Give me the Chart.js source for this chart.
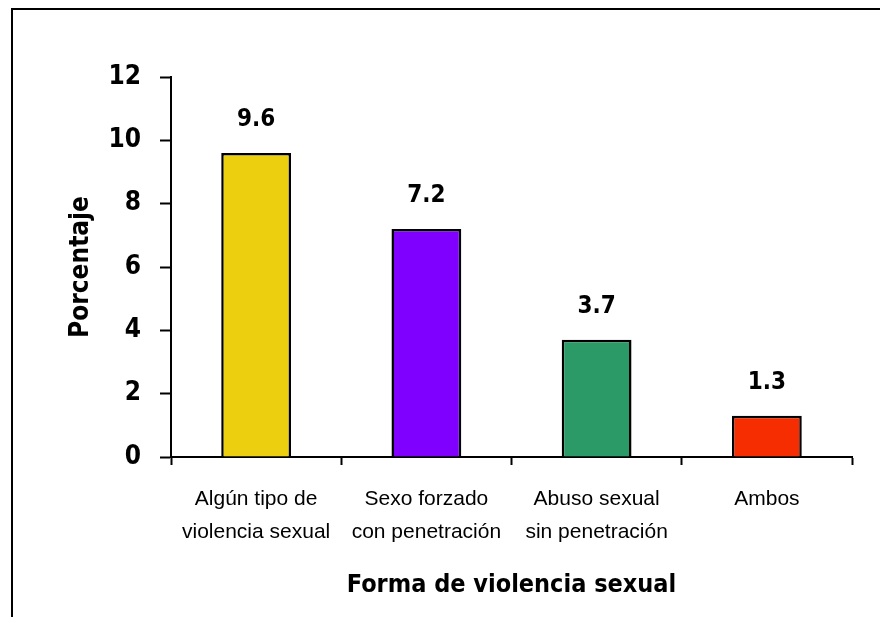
<!DOCTYPE html>
<html lang="es">
<head>
<meta charset="utf-8">
<title>Forma de violencia sexual</title>
<script src="https://cdn.jsdelivr.net/npm/chart.js"></script>
<style>
    html, body { margin: 0; padding: 0; background: #ffffff; }
    #wrap { position: relative; width: 880px; height: 617px; }
</style>
</head>
<body>
<div id="wrap"><canvas id="grafico" width="880" height="617"></canvas></div>
<script>
// ── Données ──
const categories = [
    ['Algún tipo de', 'violencia sexual'],
    ['Sexo forzado', 'con penetración'],
    ['Abuso sexual', 'sin penetración'],
    ['Ambos']
];
const porcentajes = [9.6, 7.2, 3.7, 1.3];
const couleurs = ['#ecd010', '#7f00ff', '#2b9a66', '#f52d00'];
const yMin = 0, yMax = 12, yPas = 2;

const POLICE_ETROITE = "'Liberation Sans Narrow', 'Arial Narrow', 'DejaVu Sans Condensed', sans-serif";
const POLICE = "'Liberation Sans', Arial, sans-serif";

// Cadre (bord gauche + haut) et fond blanc
const cadre = {
    id: 'cadre',
    beforeDraw(chart) {
        const ctx = chart.ctx;
        ctx.save();
        ctx.fillStyle = '#ffffff';
        ctx.fillRect(0, 0, chart.width, chart.height);
        ctx.strokeStyle = '#000000';
        ctx.lineWidth = 2;
        ctx.beginPath();
        ctx.moveTo(12, chart.height);
        ctx.lineTo(12, 9);
        ctx.lineTo(chart.width, 9);
        ctx.stroke();
        ctx.restore();
    }
};

// Valeurs au-dessus des barres
const etiquettes = {
    id: 'etiquettes',
    afterDatasetsDraw(chart) {
        const ctx = chart.ctx;
        const meta = chart.getDatasetMeta(0);
        ctx.save();
        ctx.font = `bold 24px ${POLICE_ETROITE}`;
        ctx.fillStyle = '#000000';
        ctx.textAlign = 'center';
        ctx.textBaseline = 'middle';
        meta.data.forEach((barre, i) => {
            ctx.fillText(porcentajes[i].toFixed(1), barre.x, barre.y - 33);
        });
        ctx.restore();
    }
};

new Chart(document.getElementById('grafico'), {
    type: 'bar',
    data: {
        labels: categories,
        datasets: [{
            data: porcentajes,
            backgroundColor: couleurs,
            borderColor: '#000000',
            borderWidth: 2.5,
            borderSkipped: 'bottom',
            categoryPercentage: 1,
            barPercentage: 0.41
        }]
    },
    options: {
        responsive: false,
        animation: false,
        devicePixelRatio: 1,
        layout: { padding: { left: 50, top: 77, right: 28, bottom: 0 } },
        plugins: {
            legend: { display: false },
            tooltip: { enabled: false }
        },
        scales: {
            x: {
                afterFit: s => { s.height = 160; },
                grid: {
                    drawOnChartArea: false,
                    drawTicks: true,
                    tickLength: 8,
                    tickColor: '#000000',
                    tickWidth: 2
                },
                border: { display: true, color: '#000000', width: 2 },
                ticks: {
                    color: '#000000',
                    padding: 18,
                    font: { family: POLICE, size: 21, lineHeight: 1.55 }
                },
                title: {
                    display: true,
                    text: 'Forma de violencia sexual',
                    color: '#000000',
                    padding: { top: 17, bottom: 17 },
                    font: { family: POLICE_ETROITE, size: 25, weight: 'bold', lineHeight: 1.2 }
                }
            },
            y: {
                min: yMin,
                max: yMax,
                afterFit: s => { s.width = 121; },
                grid: {
                    drawOnChartArea: false,
                    drawTicks: true,
                    tickLength: 11,
                    tickColor: '#000000',
                    tickWidth: 2
                },
                border: { display: true, color: '#000000', width: 2 },
                ticks: {
                    stepSize: yPas,
                    color: '#000000',
                    padding: 19,
                    font: { family: POLICE_ETROITE, size: 26, weight: 'bold' }
                },
                title: {
                    display: true,
                    text: 'Porcentaje',
                    color: '#000000',
                    padding: { top: 16, bottom: 16 },
                    font: { family: POLICE_ETROITE, size: 26, weight: 'bold', lineHeight: 1.2 }
                }
            }
        }
    },
    plugins: [cadre, etiquettes]
});
</script>
</body>
</html>
